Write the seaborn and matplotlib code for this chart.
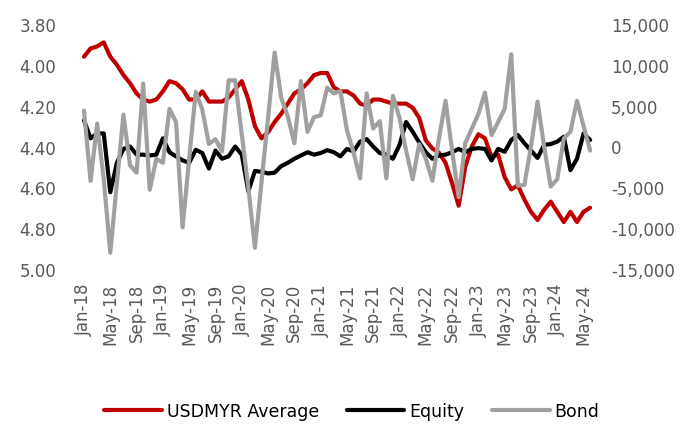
import pandas as pd
import matplotlib
matplotlib.use("Agg")
import matplotlib.pyplot as plt
import seaborn as sns
from matplotlib.ticker import FuncFormatter

# monthly data, Jan-18 .. Jun-24
months = pd.date_range("2018-01-01", periods=78, freq="MS")

usdmyr = [3.96, 3.92, 3.91, 3.89, 3.96, 4.00, 4.05, 4.09, 4.14, 4.17, 4.18, 4.17,
          4.13, 4.08, 4.09, 4.12, 4.17, 4.17, 4.13, 4.18, 4.18, 4.18, 4.16, 4.12,
          4.08, 4.17, 4.30, 4.36, 4.33, 4.28, 4.24, 4.19, 4.14, 4.12, 4.09, 4.05,
          4.04, 4.04, 4.11, 4.13, 4.13, 4.15, 4.19, 4.20, 4.17, 4.17, 4.18, 4.19,
          4.19, 4.19, 4.21, 4.26, 4.37, 4.41, 4.43, 4.48, 4.58, 4.69, 4.50, 4.40,
          4.34, 4.36, 4.45, 4.44, 4.55, 4.61, 4.59, 4.66, 4.72, 4.76, 4.71, 4.67,
          4.72, 4.77, 4.72, 4.77, 4.72, 4.70]

equity = [3200, 1000, 1600, 1600, -5600, -2000, -300, 0, -1000, -1000, -1100, -1000,
          1000, -700, -1200, -1700, -2000, -400, -800, -2700, -500, -1500, -1200, 0,
          -1000, -5500, -3000, -3100, -3300, -3200, -2400, -2000, -1500, -1100, -700, -1000,
          -800, -450, -700, -1200, -300, -600, 600, 900, 0, -800, -1000, -1500,
          200, 3000, 1800, 500, -700, -1500, -1100, -1000, -700, -300, -700, -300,
          -200, -300, -1700, -300, -650, 800, 1400, 400, -500, -1400, 200, 300,
          600, 1200, -2900, -1500, 1600, 800]

bond = [4400, -4200, 2800, -4000, -13000, -4500, 3900, -2300, -3200, 7700, -5300, -1500,
        -2000, 4600, 3000, -9900, -1500, 6700, 4500, 300, 900, -600, 8100, 8100,
        1500, -5000, -12400, -4400, 3500, 11500, 6000, 3700, 400, 8000, 1800, 3600,
        3800, 7200, 6500, 6800, 2000, -700, -3900, 6500, 2200, 3100, -3900, 6200,
        3500, -500, -4000, 300, -1500, -4200, 1000, 5600, -500, -6200, 400, 2200,
        4000, 6600, 1400, 3000, 4600, 11300, -4800, -4700, 0, 5500, 0, -4900,
        -4000, 1000, 1800, 5600, 2500, -500]

df = pd.DataFrame({"idx": range(len(months)), "USDMYR Average": usdmyr,
                   "Equity": equity, "Bond": bond})

tick_pos = list(range(0, 78, 4))
tick_labels = [months[i].strftime("%b-%y") for i in tick_pos]

sns.set_style("white")
plt.rcParams["font.family"] = ["DejaVu Sans"]
grey_txt = "#595959"

fig = plt.figure(figsize=(6.97, 4.27), dpi=100)
ax = fig.add_axes([70 / 697, 1 - 270 / 427, 530 / 697, 245 / 427])
ax2 = ax.twinx()

sns.lineplot(data=df, x="idx", y="USDMYR Average", ax=ax, color="#C00000",
             linewidth=3, label="USDMYR Average", legend=False)
sns.lineplot(data=df, x="idx", y="Equity", ax=ax2, color="black",
             linewidth=3, label="Equity", legend=False)
sns.lineplot(data=df, x="idx", y="Bond", ax=ax2, color="#A0A0A0",
             linewidth=3, label="Bond", legend=False)

ax.set_xlim(-2.13, 78.5)
ax.set_ylim(5.0, 3.8)
ax.set_yticks([3.8, 4.0, 4.2, 4.4, 4.6, 4.8, 5.0])
ax.yaxis.set_major_formatter(FuncFormatter(lambda v, p: f"{v:.2f}"))
ax2.set_ylim(-15000, 15000)
ax2.set_yticks(range(-15000, 15001, 5000))
ax2.yaxis.set_major_formatter(FuncFormatter(lambda v, p: f"{int(v):,}"))

ax.set_xticks(tick_pos)
ax.set_xticklabels(tick_labels, rotation=90)
ax.set_xlabel("")
ax.set_ylabel("")
ax2.set_ylabel("")

for a in (ax, ax2):
    for s in a.spines.values():
        s.set_visible(False)
    a.tick_params(length=0, labelsize=12, colors=grey_txt)
ax.tick_params(axis="y", pad=10)
ax.tick_params(axis="x", pad=10)
ax2.tick_params(axis="y", pad=8)

h1, l1 = ax.get_legend_handles_labels()
h2, l2 = ax2.get_legend_handles_labels()
fig.legend(h1 + h2, l1 + l2, loc="center", bbox_to_anchor=(352 / 697, 1 - 412 / 427),
           ncol=3, frameon=False, fontsize=12.5, handlelength=3.3, handletextpad=0.3,
           columnspacing=1.6, labelcolor="black")

fig.savefig("out.png", dpi=100)
